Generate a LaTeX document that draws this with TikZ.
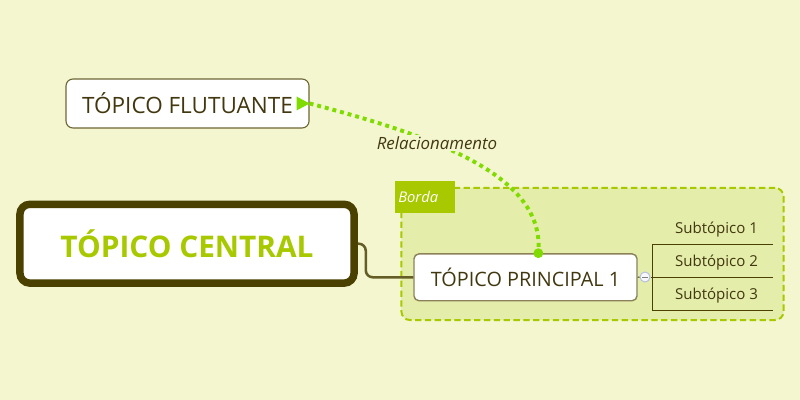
\documentclass[tikz,border=0pt]{standalone}
\usepackage{fontspec}
\setmainfont{Open Sans}
\definecolor{bgcol}{RGB}{244,246,208}
\definecolor{bordafill}{RGB}{228,237,170}
\definecolor{bordaline}{RGB}{168,200,0}
\definecolor{olivedark}{RGB}{74,64,0}
\definecolor{olivemid}{RGB}{140,130,90}
\definecolor{textdark}{RGB}{66,56,16}
\definecolor{relgreen}{RGB}{128,220,0}
\definecolor{toggleline}{RGB}{180,190,225}

\begin{document}
\begin{tikzpicture}[x=0.025cm,y=-0.025cm,
  topicbox/.style={draw,fill=white,text=textdark,inner sep=0pt},
  subtopic/.style={anchor=south west,minimum width=3cm,minimum height=0.7cm,inner sep=0pt,
    text=textdark,font=\fontsize{10.7}{12}\selectfont},
  subline/.style={draw=olivedark,line width=0.7pt},
  reldots/.style={draw=relgreen,line width=2.8pt,dash pattern=on 2.8pt off 2.8pt}]
  \fill[bgcol] (0,0) rectangle (800,400);
  \node[draw=bordaline,fill=bordafill,line width=1.4pt,dash pattern=on 4.5pt off 2.5pt,
    rounded corners=6pt,minimum width=9.55cm,minimum height=3.3cm] (borda) at (592.5,254) {};
  \node[fill=bordaline,anchor=north west,minimum height=0.8cm,text width=1.35cm,inner xsep=0.075cm,
    text=white,font=\fontsize{10.5}{12}\itshape] (bordalabel) at (395,181) {Borda};
  \node[topicbox,draw=olivedark,line width=5.3pt,rounded corners=7pt,minimum width=8.35cm,
    minimum height=1.97cm,text=bordaline,font=\fontsize{21.2}{25}\bfseries] (central) at (187,243.7) {TÓPICO CENTRAL};
  \node[topicbox,draw=olivedark!80,line width=0.8pt,rounded corners=5pt,minimum width=6.075cm,
    minimum height=1.225cm,font=\fontsize{16}{19}\selectfont] (floating) at (187.5,103.5) {TÓPICO FLUTUANTE};
  \node[topicbox,draw=olivemid,line width=1pt,rounded corners=3.5pt,minimum width=5.575cm,
    minimum height=1.17cm,font=\fontsize{14.1}{16}\selectfont] (principal) at (525.5,277.3) {TÓPICO PRINCIPAL 1};
  \draw[draw=olivedark!85,line width=1.8pt,rounded corners=5pt] (central.east) -- ++(8,0) |- (principal.west);
  \node[subtopic] (sub1) at (652,244) {\hspace*{6pt}Subtópico 1};
  \node[subtopic] (sub2) at (652,277) {\hspace*{6pt}Subtópico 2};
  \node[subtopic] (sub3) at (652,310) {\hspace*{6pt}Subtópico 3};
  \node[circle,draw=toggleline,fill=white!90!toggleline,line width=0.7pt,minimum size=0.25cm,inner sep=0pt]
    (toggle) at (645,277) {};
  \draw[gray,line width=0.6pt] ([xshift=-1.8pt]toggle.center) -- ([xshift=1.8pt]toggle.center);
  \draw[subline] (principal.east) -- (toggle.west);
  \draw[subline] (toggle.east) -- (sub2.south west);
  \draw[subline] (sub1.south west) -- (sub3.south west);
  \draw[subline] (sub1.south west) -- (sub1.south east);
  \draw[subline] (sub2.south west) -- (sub2.south east);
  \draw[subline] (sub3.south west) -- (sub3.south east);
  \coordinate (relP) at (principal.62);
  \draw[reldots] (floating.east) .. controls (450,140) and (545,180) .. (relP);
  \fill[relgreen] (relP) circle (3.5pt);
  \fill[relgreen] (floating.east) -- ++(-13,-7) -- ++(0,14) -- cycle;
  \node[fill=bgcol,inner sep=1pt,text=textdark,font=\fontsize{12}{14}\itshape] (rellabel) at (437,143) {Relacionamento};
\end{tikzpicture}
\end{document}
